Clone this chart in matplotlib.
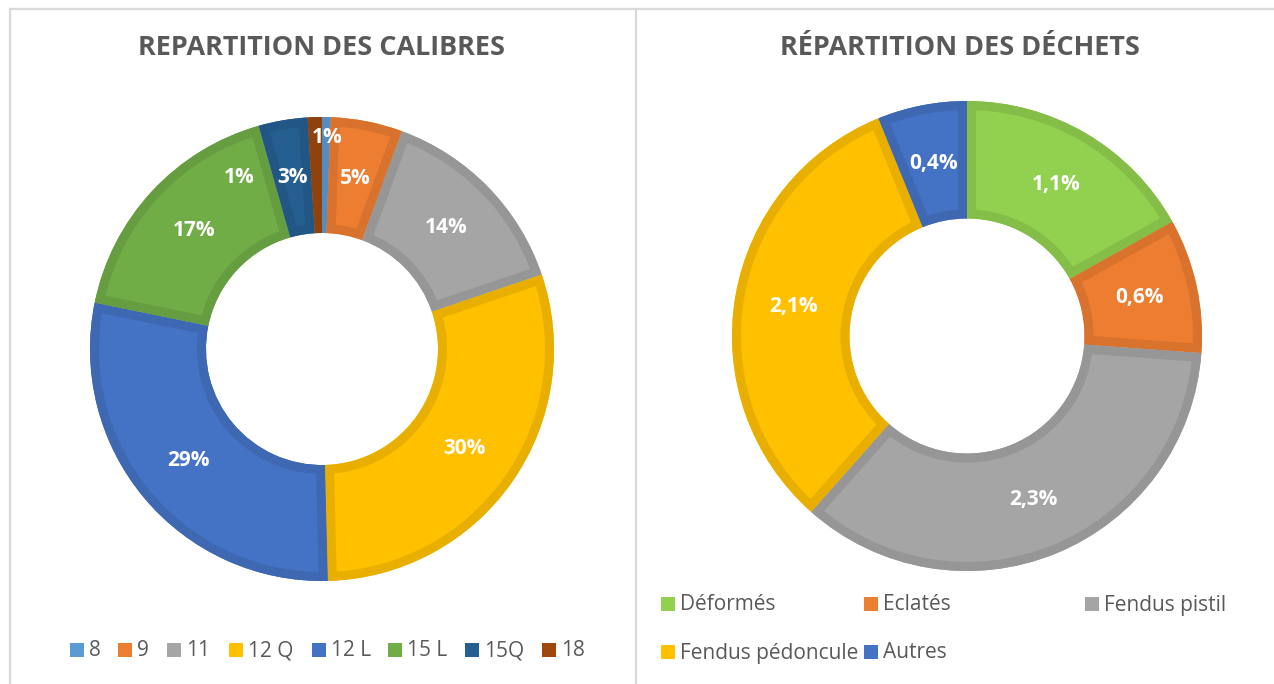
import numpy as np
import matplotlib
matplotlib.use("Agg")
import matplotlib.pyplot as plt
from matplotlib.colors import to_rgb
from matplotlib.lines import Line2D
from matplotlib.patches import Rectangle, Wedge

plt.rcParams["font.family"] = ["Open Sans", "DejaVu Sans"]

W, H = 1274, 684
TEXT_GREY = "#595959"
FRAME_GREY = "#D9D9D9"

# --- data -------------------------------------------------------------
calibres = ["8", "9", "11", "12 Q", "12 L", "15 L", "15Q", "18"]
calibres_pct = [0.6, 5.0, 14.2, 29.8, 28.6, 17.4, 3.4, 1.0]
calibres_colors = ["#5B9BD5", "#ED7D31", "#A5A5A5", "#FFC000",
                   "#4472C4", "#70AD47", "#255E91", "#9E480E"]

dechets = ["Déformés", "Eclatés", "Fendus pistil", "Fendus pédoncule", "Autres"]
dechets_pct = [1.1, 0.6, 2.3, 2.1, 0.4]
dechets_colors = ["#92D050", "#ED7D31", "#A5A5A5", "#FFC000", "#4472C4"]


def darker(color, f=0.91):
    return tuple(v * f for v in to_rgb(color))


def px_axes(fig, cx, cy, r):
    # square axes centred on (cx, cy) in pixel coords (origin top-left)
    return fig.add_axes([(cx - r) / W, (H - cy - r) / H, 2 * r / W, 2 * r / H])


def donut(ax, values, colors, texts, offsets=None):
    offsets = offsets or {}
    wedges, _ = ax.pie(values, colors=colors, startangle=90, counterclock=False,
                       radius=1.0, wedgeprops=dict(width=0.5, linewidth=0))
    for w, c in zip(wedges, colors):
        # inner border in a darker shade: a stroked copy clipped to the wedge
        border = Wedge(w.center, w.r, w.theta1, w.theta2, width=w.width,
                       facecolor="none", edgecolor=darker(c), linewidth=13,
                       joinstyle="miter")
        ax.add_patch(border)
        clip = Wedge(w.center, w.r, w.theta1, w.theta2, width=w.width,
                     transform=ax.transData)
        border.set_clip_path(clip)
    for i, (w, txt) in enumerate(zip(wedges, texts)):
        ang = np.deg2rad((w.theta1 + w.theta2) / 2)
        dx, dy = offsets.get(i, (0, 0))
        ax.text(0.75 * np.cos(ang) + dx, 0.75 * np.sin(ang) + dy, txt,
                ha="center", va="center", color="white",
                fontsize=15, fontweight="bold")
    ax.set_xlim(-1, 1)
    ax.set_ylim(-1, 1)
    ax.axis("off")


def fit_title(fig, x, y, s, width_px):
    t = fig.text(x / W, 1 - y / H, s, ha="center", va="center",
                 color=TEXT_GREY, fontsize=18, fontweight="bold")
    r = fig.canvas.get_renderer()
    w = t.get_window_extent(renderer=r).width
    t.set_fontsize(18 * width_px / w)
    return t


def legend_item(fig, x, y, color, label):
    # x = left edge of square marker, y = vertical centre (pixels)
    s = 14
    fig.add_artist(Rectangle((x / W, (H - y - s / 2) / H), s / W, s / H,
                             transform=fig.transFigure, color=color, lw=0))
    fig.text((x + s + 5) / W, 1 - (y + 1) / H, label, ha="left", va="center",
             color=TEXT_GREY, fontsize=15)


fig = plt.figure(figsize=(W / 100, H / 100), dpi=100)

# panel frames
for xs, ys in [([9.5, 9.5], [H, 8.5]), ([9.5, W], [8.5, 8.5]), ([636, 636], [8.5, H])]:
    fig.add_artist(Line2D([x / W for x in xs], [1 - y / H for y in ys],
                          transform=fig.transFigure, color=FRAME_GREY, lw=1.6))

# left donut
ax1 = px_axes(fig, 322, 349, 232)
cal_txt = [f"{round(p)}%" for p in calibres_pct]
donut(ax1, calibres_pct, calibres_colors, cal_txt,
      offsets={0: (0.01, 0.16), 7: (-0.335, -0.01)})
fit_title(fig, 321, 48, "REPARTITION DES CALIBRES", 368)

cal_x = [70, 118, 167, 229, 312, 388, 465, 542]
for x, c, lab in zip(cal_x, calibres_colors, calibres):
    legend_item(fig, x, 650, c, lab)

# right donut
ax2 = px_axes(fig, 967, 336, 235)
dec_txt = [f"{p:.1f}%".replace(".", ",") for p in dechets_pct]
donut(ax2, dechets_pct, dechets_colors, dec_txt)
fit_title(fig, 960, 48, "RÉPARTITION DES DÉCHETS", 360)

dec_pos = [(661, 604), (864, 604), (1085, 604), (661, 652), (864, 652)]
for (x, y), c, lab in zip(dec_pos, dechets_colors, dechets):
    legend_item(fig, x, y, c, lab)

fig.savefig("out.png", dpi=100)
